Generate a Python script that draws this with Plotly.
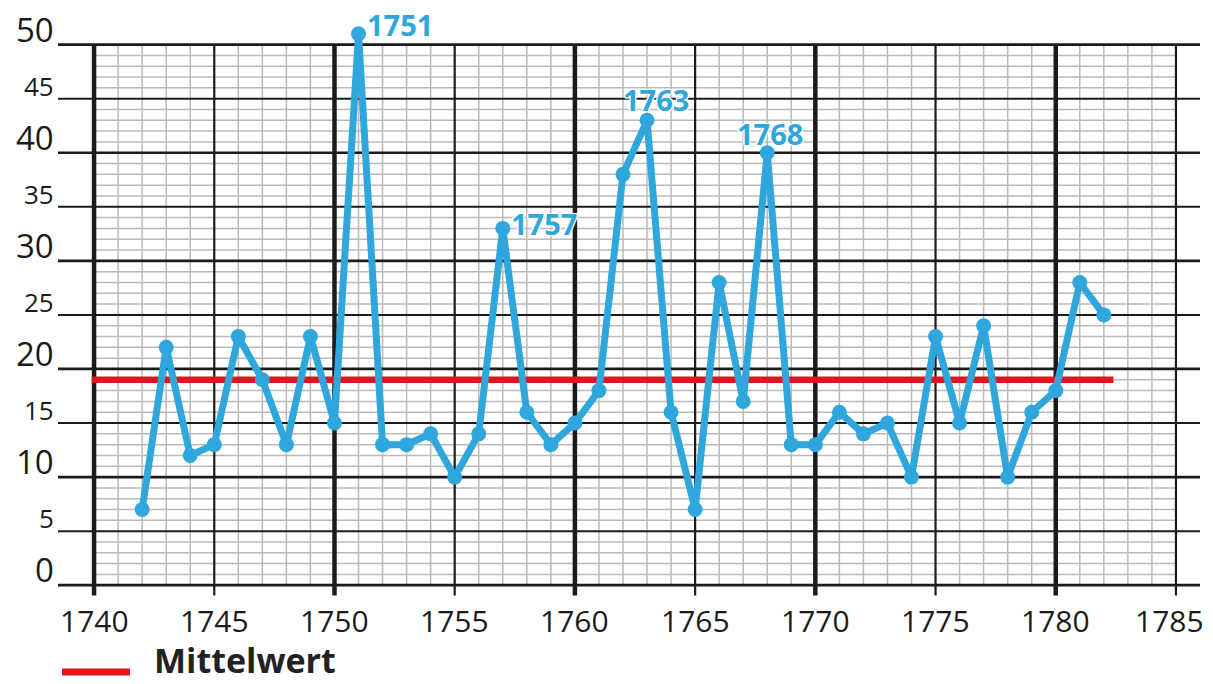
import plotly.graph_objects as go

# ---------------- data ----------------
YEARS = list(range(1742, 1783))
VALUES = [7, 22, 12, 13, 23, 19, 13, 23, 15, 51,
          13, 13, 14, 10, 14, 33, 16, 13, 15, 18,
          38, 43, 16, 7, 28, 17, 40, 13, 13, 16,
          14, 15, 10, 23, 15, 24, 10, 16, 18, 28,
          25]
MEAN_VALUE = 19
MEAN_YEARS = [1739.9, 1782.4]
PEAK_YEARS = [1751, 1757, 1763, 1768]
X_TICKS = [1740, 1745, 1750, 1755, 1760, 1765, 1770, 1775, 1780, 1785]
Y_TICKS = [0, 5, 10, 15, 20, 25, 30, 35, 40, 45, 50]
LEGEND_LABEL = "Mittelwert"

# ---------------- style ----------------
BLUE = "#2fa6dc"
RED = "#e2151d"
DARK = "#1b1b1b"
GRAY = "#bababa"
FONT = "Open Sans"

X0, X1 = X_TICKS[0], X_TICKS[-1]
Y0, Y1 = Y_TICKS[0], Y_TICKS[-1]
X_LEFT_EXT, X_RIGHT_EXT = X0 - 1.5, X1 + 1.0
Y_BOTTOM_EXT = -0.95
Y_RANGE = [-1, 52]

fig = go.Figure()


def seg_trace(xs_list, ys_list, color, width):
    xs, ys = [], []
    for xx, yy in zip(xs_list, ys_list):
        xs += [xx[0], xx[1], None]
        ys += [yy[0], yy[1], None]
    return go.Scatter(x=xs, y=ys, mode="lines", line=dict(color=color, width=width),
                      hoverinfo="skip", showlegend=False)


# minor grid (gray)
mx, my = [], []
for yr in range(X0, X1 + 1):
    if yr % 5:
        mx.append((yr, yr)); my.append((Y0, Y1))
for v in range(Y0, Y1 + 1):
    if v % 5:
        mx.append((X0, X1)); my.append((v, v))
fig.add_trace(seg_trace(mx, my, GRAY, 1.5))

# horizontal major lines (extend as ticks on both sides)
h5x, h5y, h10x, h10y = [], [], [], []
for v in Y_TICKS:
    if v % 10:
        h5x.append((X_LEFT_EXT, X_RIGHT_EXT)); h5y.append((v, v))
    else:
        h10x.append((X_LEFT_EXT, X_RIGHT_EXT)); h10y.append((v, v))
fig.add_trace(seg_trace(h5x, h5y, DARK, 2))
fig.add_trace(seg_trace(h10x, h10y, DARK, 2.7))

# vertical major lines (extend below as ticks)
v5x, v5y, v10x, v10y = [], [], [], []
for yr in X_TICKS:
    if yr % 10:
        v5x.append((yr, yr)); v5y.append((Y_BOTTOM_EXT, Y1))
    else:
        v10x.append((yr, yr)); v10y.append((Y_BOTTOM_EXT, Y1))
fig.add_trace(seg_trace(v5x, v5y, DARK, 2.2))
fig.add_trace(seg_trace(v10x, v10y, DARK, 4.5))

# mean line
fig.add_trace(go.Scatter(x=MEAN_YEARS, y=[MEAN_VALUE, MEAN_VALUE], mode="lines",
                         line=dict(color=RED, width=6.5), name=LEGEND_LABEL,
                         hoverinfo="skip", showlegend=False))

# data line
fig.add_trace(go.Scatter(x=YEARS, y=VALUES, mode="lines+markers",
                         line=dict(color=BLUE, width=7),
                         marker=dict(color=BLUE, size=15),
                         cliponaxis=False, showlegend=False))

# peak labels
offsets = {1751: (7, 9), 1757: (7, 5), 1763: (-25, 21), 1768: (-31, 19)}
shadow = "1px 1px 0 white, -1px -1px 0 white, 1px -1px 0 white, -1px 1px 0 white, 0 0 3px white"
for yr in PEAK_YEARS:
    val = VALUES[YEARS.index(yr)]
    dx, dy = offsets[yr]
    fig.add_annotation(x=yr, y=val, text=str(yr), showarrow=False,
                       xanchor="left", yanchor="middle", xshift=dx, yshift=dy,
                       borderpad=0,
                       font=dict(family=FONT, size=29, color=BLUE, weight="bold",
                                 shadow=shadow))

# y labels (two sizes), sitting on top of the lines, left of them
for v in Y_TICKS:
    big = (v % 10 == 0)
    fig.add_annotation(x=X_LEFT_EXT, y=v, text=str(v), showarrow=False,
                       xanchor="right", yanchor="bottom", xshift=-3,
                       yshift=-8 if big else -6, borderpad=0,
                       font=dict(family=FONT, size=33 if big else 26, color=DARK))

# x labels below the tick stubs (last one kept inside the page edge)
for t in X_TICKS:
    last = (t == X_TICKS[-1])
    fig.add_annotation(x=t, y=Y_RANGE[0], text=str(t), showarrow=False,
                       xanchor="right" if last else "center", xshift=29 if last else 0,
                       yanchor="top", yshift=-3, borderpad=0,
                       font=dict(family=FONT, size=30, color=DARK))

# legend
fig.add_shape(type="line", xref="paper", yref="paper",
              x0=0.0035, x1=0.063, y0=-0.1326, y1=-0.1326,
              line=dict(color=RED, width=7))
fig.add_annotation(xref="paper", yref="paper", x=0.083, y=-0.1536,
                   text=LEGEND_LABEL, showarrow=False, xanchor="left", yanchor="bottom",
                   borderpad=0,
                   font=dict(family=FONT, size=34, color="#222222", weight="bold"))

# the page has an 8px body margin; the figure is sized so the page fits the window
fig.update_layout(
    width=1197, height=668,
    margin=dict(l=50, r=5, t=15, b=80),
    paper_bgcolor="white", plot_bgcolor="white",
    showlegend=False,
    xaxis=dict(range=[X_LEFT_EXT, X_RIGHT_EXT], showgrid=False, zeroline=False,
               showline=False, showticklabels=False, ticks=""),
    yaxis=dict(range=Y_RANGE, showgrid=False, zeroline=False, showline=False,
               showticklabels=False, ticks=""),
)

fig.write_html("out.html")
